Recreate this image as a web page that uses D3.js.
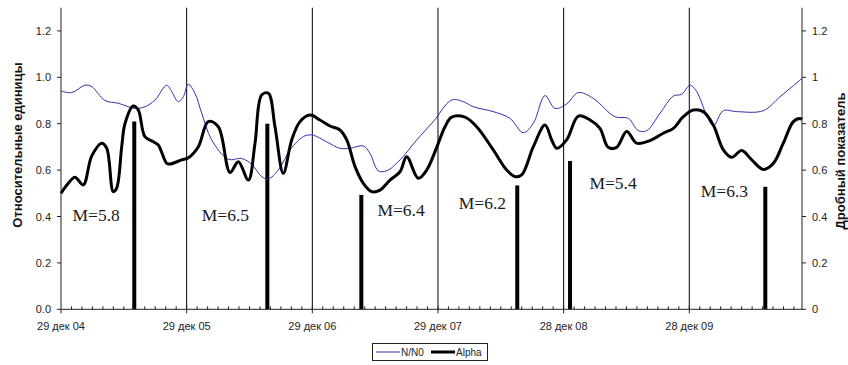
<!DOCTYPE html>
<html><head><meta charset="utf-8">
<script src="https://cdn.jsdelivr.net/npm/d3@7"></script>
<style>html,body{margin:0;padding:0;background:#fff;}svg{display:block;font-family:"Liberation Sans",Arial,sans-serif;}</style>
</head><body>
<svg id="c" width="848" height="365"></svg>
<script>
// x values are years since 29 Dec 2004
const xTickLabels = ["29 дек 04","29 дек 05","29 дек 06","29 дек 07","28 дек 08","28 дек 09"];
const xMax = 5.897;
const leftTicks = [0,0.2,0.4,0.6,0.8,1.0,1.2];
const rightTickLabels = ["0","0.2","0.4","0.6","0.8","1","1.2"];

const nT = [0,0.085,0.191,0.244,0.350,0.456,0.589,0.668,0.748,0.841,0.881,0.933,0.973,1.013,1.066,1.120,1.199,1.331,1.438,1.518,1.597,1.650,1.729,1.836,1.942,2.008,2.114,2.220,2.300,2.406,2.459,2.525,2.592,2.698,2.831,2.963,3.109,3.202,3.281,3.440,3.573,3.679,3.759,3.852,3.931,4.024,4.117,4.236,4.409,4.515,4.594,4.661,4.767,4.873,4.940,5.006,5.059,5.138,5.191,5.271,5.377,5.589,5.722,5.897];
const nVal = [0.941,0.934,0.966,0.960,0.900,0.888,0.866,0.873,0.902,0.966,0.938,0.895,0.916,0.970,0.931,0.845,0.730,0.647,0.650,0.625,0.572,0.562,0.600,0.697,0.748,0.750,0.722,0.694,0.694,0.704,0.672,0.597,0.597,0.644,0.730,0.809,0.902,0.895,0.873,0.852,0.823,0.761,0.802,0.921,0.866,0.885,0.934,0.909,0.830,0.823,0.770,0.770,0.845,0.919,0.927,0.966,0.938,0.837,0.790,0.856,0.852,0.856,0.916,0.995];

const aT = [0,0.058,0.111,0.177,0.244,0.324,0.364,0.416,0.443,0.483,0.509,0.575,0.615,0.668,0.735,0.774,0.841,0.867,0.961,1.013,1.093,1.172,1.252,1.345,1.411,1.491,1.544,1.597,1.650,1.703,1.769,1.836,1.902,1.982,2.061,2.141,2.220,2.274,2.340,2.406,2.473,2.539,2.618,2.698,2.751,2.843,2.910,2.990,3.056,3.109,3.215,3.308,3.440,3.547,3.613,3.666,3.759,3.852,3.905,3.945,4.024,4.117,4.210,4.289,4.355,4.422,4.502,4.581,4.687,4.793,4.873,4.952,5.032,5.111,5.191,5.271,5.337,5.417,5.497,5.589,5.669,5.748,5.828,5.881,5.897];
const aVal = [0.500,0.543,0.569,0.536,0.660,0.716,0.694,0.507,0.522,0.700,0.800,0.876,0.859,0.744,0.722,0.708,0.629,0.626,0.644,0.653,0.701,0.809,0.787,0.590,0.636,0.557,0.716,0.924,0.931,0.787,0.586,0.730,0.809,0.837,0.816,0.790,0.773,0.730,0.615,0.543,0.507,0.514,0.557,0.593,0.658,0.565,0.600,0.698,0.787,0.828,0.828,0.787,0.687,0.600,0.572,0.579,0.701,0.794,0.730,0.694,0.730,0.833,0.816,0.780,0.698,0.698,0.766,0.716,0.727,0.759,0.780,0.830,0.859,0.852,0.794,0.687,0.655,0.684,0.644,0.603,0.629,0.716,0.809,0.822,0.818];

const quakeT = [0.583,1.642,2.390,3.631,4.051,5.605];
const quakeVal = [0.81,0.80,0.493,0.534,0.639,0.528];
const quakeLabels = ["M=5.8","M=6.5","M=6.4","M=6.2","M=5.4","M=6.3"];
const labelT = [0.0912,1.120,2.518,3.165,4.205,5.091];
const labelVal = [0.379,0.379,0.401,0.432,0.517,0.485];

const svg = d3.select("#c");
const x = d3.scaleLinear().domain([0, xMax]).range([61, 802]);
const y = d3.scaleLinear().domain([0, 1.3]).range([309.3, 7.7]);
const ink = "#222";

// year grid lines
svg.append("g").selectAll("line").data(d3.range(1, 6)).join("line")
  .attr("x1", d => x(d)).attr("x2", d => x(d))
  .attr("y1", y(0)).attr("y2", y(1.3))
  .attr("stroke", "#000").attr("stroke-width", 1);

// quake bars
svg.append("g").selectAll("line").data(quakeT).join("line")
  .attr("x1", d => x(d)).attr("x2", d => x(d))
  .attr("y1", y(0)).attr("y2", (d, i) => y(quakeVal[i]))
  .attr("stroke", "#000").attr("stroke-width", 4);

// lines
const nData = nT.map((t, i) => [t, nVal[i]]);
const aData = aT.map((t, i) => [t, aVal[i]]);
const line = d3.line().x(d => x(d[0])).y(d => y(d[1])).curve(d3.curveCatmullRom.alpha(0.5));
svg.append("path").attr("d", line(nData)).attr("fill", "none").attr("stroke", "#3030a8").attr("stroke-width", 1);
svg.append("path").attr("d", line(aData)).attr("fill", "none").attr("stroke", "#000").attr("stroke-width", 3).attr("stroke-linejoin", "round");

// M labels
svg.append("g").selectAll("text").data(quakeLabels).join("text")
  .attr("x", (d, i) => x(labelT[i])).attr("y", (d, i) => y(labelVal[i]))
  .attr("font-family", "'Liberation Serif','Times New Roman',serif")
  .attr("font-size", 17.5).attr("fill", "#1a1a1a").text(d => d);

// bottom axis
const gx = svg.append("g");
gx.append("line").attr("x1", x(0)).attr("x2", x(xMax)).attr("y1", y(0)).attr("y2", y(0)).attr("stroke", ink);
gx.selectAll(".mt").data(d3.range(1, Math.floor(xMax * 12) + 1)).join("line")
  .attr("x1", d => x(d / 12)).attr("x2", d => x(d / 12))
  .attr("y1", y(0)).attr("y2", y(0) - 3).attr("stroke", ink);
gx.selectAll(".Mt").data(d3.range(0, 6)).join("line")
  .attr("x1", d => x(d)).attr("x2", d => x(d))
  .attr("y1", y(0)).attr("y2", y(0) + 4).attr("stroke", ink);
gx.selectAll("text").data(xTickLabels).join("text")
  .attr("x", (d, i) => x(i)).attr("y", 330)
  .attr("text-anchor", "middle").attr("font-size", 11).attr("fill", ink).text(d => d);

// left axis
const gl = svg.append("g");
gl.append("line").attr("x1", 61).attr("x2", 61).attr("y1", y(0)).attr("y2", y(1.3)).attr("stroke", ink);
gl.selectAll("line.t").data(leftTicks).join("line").attr("class","t")
  .attr("x1", 57).attr("x2", 61).attr("y1", d => y(d)).attr("y2", d => y(d)).attr("stroke", ink);
gl.selectAll("text").data(leftTicks).join("text")
  .attr("x", 51).attr("y", d => y(d) + 4).attr("text-anchor", "end")
  .attr("font-size", 11).attr("fill", ink).text(d => d3.format(".1f")(d));

// right axis
const gr = svg.append("g");
gr.append("line").attr("x1", 802).attr("x2", 802).attr("y1", y(0)).attr("y2", y(1.3)).attr("stroke", ink);
gr.selectAll("line.t").data(leftTicks).join("line").attr("class","t")
  .attr("x1", 802).attr("x2", 806).attr("y1", d => y(d)).attr("y2", d => y(d)).attr("stroke", ink);
gr.selectAll("text").data(rightTickLabels).join("text")
  .attr("x", 812).attr("y", (d, i) => y(leftTicks[i]) + 4)
  .attr("font-size", 11).attr("fill", ink).text(d => d);

// axis titles
svg.append("text").attr("transform", "translate(22,145) rotate(-90)")
  .attr("text-anchor", "middle").attr("font-size", 13).attr("font-weight", "bold").attr("fill", "#111")
  .text("Относительные единицы");
svg.append("text").attr("transform", "translate(845,161) rotate(-90)")
  .attr("text-anchor", "middle").attr("font-size", 13).attr("font-weight", "bold").attr("fill", "#111")
  .text("Дробный показатель");

// legend
const lg = svg.append("g");
lg.append("rect").attr("x", 372.5).attr("y", 343.5).attr("width", 115).attr("height", 17)
  .attr("fill", "#fff").attr("stroke", "#222");
lg.append("line").attr("x1", 376).attr("x2", 400).attr("y1", 352).attr("y2", 352).attr("stroke", "#3030a8");
lg.append("text").attr("x", 401).attr("y", 356).attr("font-size", 10).attr("fill", ink).text("N/N0");
lg.append("line").attr("x1", 431).attr("x2", 455).attr("y1", 352).attr("y2", 352).attr("stroke", "#000").attr("stroke-width", 3);
lg.append("text").attr("x", 456).attr("y", 356).attr("font-size", 10).attr("fill", ink).text("Alpha");
</script>
</body></html>
